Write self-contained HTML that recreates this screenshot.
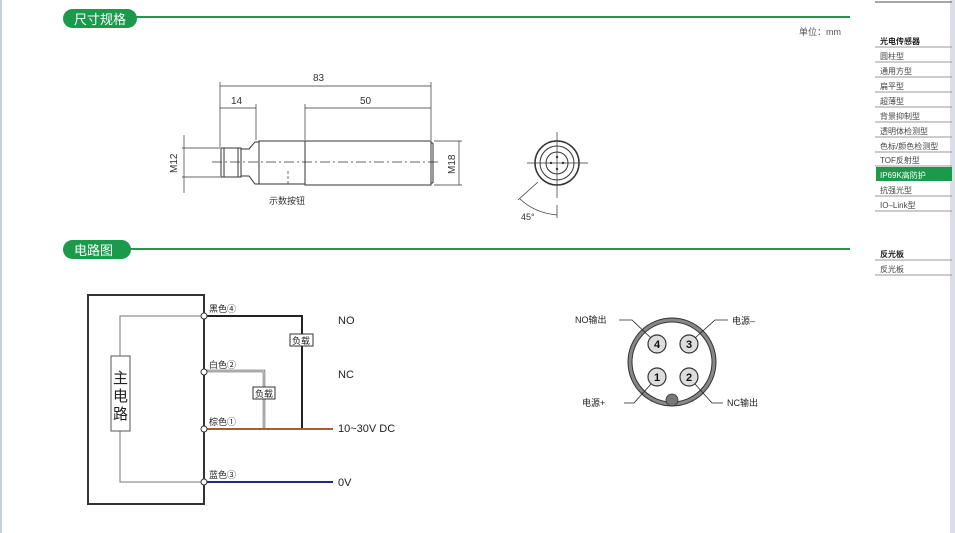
<!DOCTYPE html><html><head><meta charset="utf-8"><style>body{margin:0;background:#fff}svg{display:block}text{font-family:"Liberation Sans","Noto Sans CJK SC",sans-serif}</style></head><body>
<svg width="955" height="533" viewBox="0 0 955 533" xmlns="http://www.w3.org/2000/svg">
<rect x="0" y="0" width="2" height="533" fill="#c8d0d8"/>
<rect x="950" y="0" width="5" height="533" fill="#d8dfe6"/>
<line x1="130" y1="17" x2="850" y2="17" stroke="#1a9a4a" stroke-width="2"/>
<rect x="63" y="9" width="74" height="19" rx="9.5" fill="#1a9a4a"/>
<text x="74" y="24" font-size="13" fill="#fff">尺寸规格</text>
<line x1="130" y1="249" x2="850" y2="249" stroke="#1a9a4a" stroke-width="2"/>
<rect x="63" y="240" width="68" height="19" rx="9.5" fill="#1a9a4a"/>
<text x="74" y="255" font-size="13" fill="#fff">电路图</text>
<text x="799" y="35" font-size="9" fill="#555">单位：mm</text>
<g font-size="8" fill="#444">
<line x1="875" y1="2" x2="952" y2="2" stroke="#888" stroke-width="1.5"/>
<text x="880" y="44" font-weight="bold" fill="#222">光电传感器</text>
<g stroke="#999" stroke-width="1"><line x1="875" y1="47" x2="952" y2="47"/><line x1="875" y1="62" x2="952" y2="62"/><line x1="875" y1="77" x2="952" y2="77"/><line x1="875" y1="92" x2="952" y2="92"/><line x1="875" y1="107" x2="952" y2="107"/><line x1="875" y1="122" x2="952" y2="122"/><line x1="875" y1="137" x2="952" y2="137"/><line x1="875" y1="152" x2="952" y2="152"/><line x1="875" y1="166" x2="952" y2="166"/><line x1="875" y1="196" x2="952" y2="196"/><line x1="875" y1="211" x2="952" y2="211"/><line x1="875" y1="260" x2="952" y2="260"/><line x1="875" y1="275" x2="952" y2="275"/></g>
<rect x="876" y="167" width="76" height="14" fill="#1a9a4a"/>
<text x="880" y="59">圆柱型</text><text x="880" y="74">通用方型</text><text x="880" y="89">扁平型</text><text x="880" y="104">超薄型</text><text x="880" y="119">背景抑制型</text><text x="880" y="134">透明体检测型</text><text x="880" y="149">色标/颜色检测型</text><text x="880" y="163">TOF反射型</text><text x="880" y="178" fill="#fff">IP69K高防护</text><text x="880" y="193">抗强光型</text><text x="880" y="208">IO–Link型</text>
<text x="880" y="257" font-weight="bold" fill="#222">反光板</text><text x="880" y="272">反光板</text>
</g>
<g stroke="#333" stroke-width="1" fill="none">
<rect x="221" y="148" width="20" height="29"/>
<line x1="224" y1="148" x2="224" y2="177"/><line x1="238" y1="148" x2="238" y2="177"/>
<path d="M241 149 L249 149 L255 142 L259 142 L259 184 L255 184 L249 176 L241 176"/>
<rect x="259" y="141" width="46" height="43"/>
<rect x="305" y="141" width="126" height="44"/>
<line x1="431" y1="143" x2="433" y2="143"/><line x1="433" y1="143" x2="433" y2="183"/><line x1="431" y1="183" x2="433" y2="183"/>
<line x1="212" y1="162" x2="440" y2="162" stroke-dasharray="10,3,2,3" stroke-width="0.7"/>
<line x1="220" y1="82" x2="220" y2="147" stroke-width="0.7"/><line x1="431" y1="82" x2="431" y2="140" stroke-width="0.7"/>
<line x1="256" y1="104" x2="256" y2="140" stroke-width="0.7"/><line x1="305" y1="104" x2="305" y2="140" stroke-width="0.7"/>
<line x1="220" y1="86" x2="431" y2="86" stroke-width="0.7"/>
<line x1="220" y1="108" x2="256" y2="108" stroke-width="0.7"/>
<line x1="305" y1="108" x2="431" y2="108" stroke-width="0.7"/>
<line x1="184" y1="135" x2="184" y2="193" stroke-width="0.7"/><line x1="182" y1="148" x2="220" y2="148" stroke-width="0.7"/><line x1="182" y1="177" x2="220" y2="177" stroke-width="0.7"/>
<line x1="459" y1="141" x2="459" y2="185" stroke-width="0.7"/><line x1="434" y1="141" x2="462" y2="141" stroke-width="0.7"/><line x1="434" y1="185" x2="462" y2="185" stroke-width="0.7"/>
<line x1="288" y1="171" x2="288" y2="185" stroke-dasharray="3,2" stroke-width="0.7"/>
</g>
<g fill="#333" font-size="10">
<text x="313" y="81">83</text><text x="231" y="104">14</text><text x="360" y="104">50</text>
<text transform="translate(177,173) rotate(-90)">M12</text><text transform="translate(455,174) rotate(-90)">M18</text>
<text x="269" y="204" font-size="9">示数按钮</text>
<text x="521" y="220" font-size="9">45°</text>
</g>
<g stroke="#333" fill="none">
<circle cx="557" cy="163" r="22" stroke-width="1.5"/><circle cx="557" cy="163" r="17"/><circle cx="557" cy="163" r="11"/>
<line x1="557" y1="132" x2="557" y2="198" stroke-width="0.7"/><line x1="527" y1="163" x2="588" y2="163" stroke-width="0.7"/>
<line x1="538" y1="182" x2="518" y2="200" stroke-width="0.7"/>
<path d="M520 199 Q535 213 557 215" stroke-width="0.7"/><line x1="557" y1="205" x2="557" y2="218" stroke-width="0.7"/>
</g>
<g fill="#333"><circle cx="557" cy="157" r="1.2"/><circle cx="551" cy="163" r="1.2"/><circle cx="563" cy="163" r="1.2"/><circle cx="557" cy="169" r="1.2"/></g>
<rect x="88" y="295" width="116" height="209" fill="none" stroke="#333" stroke-width="2"/>
<g stroke="#777" stroke-width="1" fill="none"><path d="M204 316 H120 V356"/><path d="M120 431 V482 H204"/></g>
<rect x="111" y="356" width="19" height="75" fill="#fff" stroke="#555"/>
<text x="113" y="383" font-size="15" fill="#222">主</text><text x="113" y="401" font-size="15" fill="#222">电</text><text x="113" y="419" font-size="15" fill="#222">路</text>
<path d="M204 316 H302 V429" stroke="#222" stroke-width="2" fill="none"/>
<path d="M204 371 H264 V429" stroke="#555" stroke-width="2.5" fill="none"/><path d="M204 371 H264 V429" stroke="#fff" stroke-width="1" fill="none"/>
<line x1="204" y1="429" x2="333" y2="429" stroke="#a85a38" stroke-width="2"/>
<line x1="204" y1="482" x2="333" y2="482" stroke="#22288a" stroke-width="2"/>
<g fill="#fff" stroke="#333"><circle cx="204" cy="316" r="3"/><circle cx="204" cy="372" r="3"/><circle cx="204" cy="429" r="3"/><circle cx="204" cy="482" r="3"/>
<rect x="290" y="334" width="23" height="12"/><rect x="253" y="387" width="22" height="12"/></g>
<g font-size="9" fill="#222"><text x="292" y="344">负载</text><text x="255" y="397">负载</text>
<text x="209" y="312">黑色④</text><text x="209" y="368">白色②</text><text x="209" y="425">棕色①</text><text x="209" y="478">蓝色③</text></g>
<g font-size="11" fill="#222"><text x="338" y="324">NO</text><text x="338" y="378">NC</text><text x="338" y="432">10~30V DC</text><text x="338" y="486">0V</text></g>
<circle cx="672" cy="362" r="42" fill="none" stroke="#333" stroke-width="5"/>
<circle cx="672" cy="362" r="42" fill="none" stroke="#888" stroke-width="3"/>
<circle cx="672" cy="400" r="6" fill="#777" stroke="#333" stroke-width="0.8"/>
<g fill="#ddd" stroke="#333" stroke-width="1.2"><circle cx="657" cy="344" r="9"/><circle cx="689" cy="344" r="9"/><circle cx="657" cy="377" r="9"/><circle cx="689" cy="377" r="9"/></g>
<g font-size="11" font-weight="bold" fill="#111" text-anchor="middle"><text x="657" y="348">4</text><text x="689" y="348">3</text><text x="657" y="381">1</text><text x="689" y="381">2</text></g>
<g stroke="#222" fill="none" stroke-width="0.8"><path d="M619 320 H632 L651 338"/><path d="M728 320 H715 L695 338"/><path d="M624 403 H634 L651 384"/><path d="M723 403 H712 L695 384"/></g>
<g font-size="9" fill="#222"><text x="575" y="323">NO输出</text><text x="732" y="324">电源–</text><text x="582" y="406">电源+</text><text x="727" y="406">NC输出</text></g>
</svg></body></html>
